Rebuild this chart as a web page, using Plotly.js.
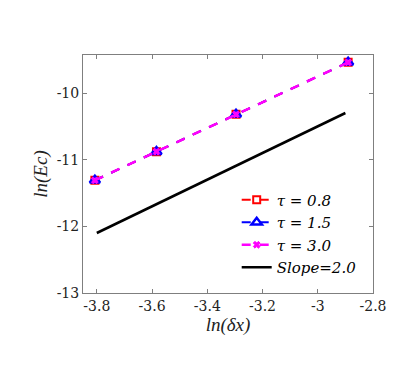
<!DOCTYPE html>
<html><head><meta charset="utf-8">
<script src="https://cdn.plot.ly/plotly-3.0.1.min.js"></script>
<style>html,body{margin:0;padding:0;background:#fff}</style>
</head><body>
<div id="chart" style="width:415px;height:365px"></div>
<script>
const lnDx = [-3.807, -3.584, -3.296, -2.890];
const eTau08 = [-11.31, -10.88, -10.32, -9.54];
const eTau15 = [-11.31, -10.88, -10.32, -9.54];
const eTau30 = [-11.31, -10.88, -10.32, -9.54];
const slopeX = [-3.8, -2.9];
const slopeY = [-12.1, -10.3];
const xTicks = [-3.8, -3.6, -3.4, -3.2, -3, -2.8];
const xTickText = ['-3.8', '-3.6', '-3.4', '-3.2', '-3', '-2.8'];
const yTicks = [-13, -12, -11, -10];
const yTickText = ['-13', '-12', '-11', '-10'];
const names = ['<i>τ = 0.8</i>', '<i>τ = 1.5</i>', '<i>τ = 3.0</i>', '<i>Slope=2.0</i>'];

const SERIF = 'Liberation Serif';
const NUMSERIF = 'DejaVu Serif';

const traces = [
  {x: lnDx, y: eTau08, name: names[0], mode: 'lines+markers',
   line: {color: '#ff0000', dash: 'dash', width: 2},
   marker: {symbol: 'square-open', color: '#ff0000', size: 7, line: {width: 2, color: '#ff0000'}}},
  {x: lnDx, y: eTau15, name: names[1], mode: 'lines+markers',
   line: {color: '#0000ff', dash: 'dash', width: 2},
   marker: {symbol: 'triangle-up-open', color: '#0000ff', size: 9, line: {width: 2.5, color: '#0000ff'}}},
  {x: lnDx, y: eTau30, name: names[2], mode: 'lines+markers',
   line: {color: '#ff00ff', dash: 'dash', width: 2.5},
   marker: {symbol: 'x', color: '#ff00ff', size: 6, line: {width: 1, color: '#ff00ff'}}},
  {x: slopeX, y: slopeY, name: names[3], mode: 'lines',
   line: {color: '#000000', width: 2.5}}
];

const axisCommon = {
  showgrid: false, zeroline: false, showline: true, linecolor: '#7f7f7f', linewidth: 1,
  mirror: 'ticks', ticks: 'inside', ticklen: 4, tickcolor: '#7f7f7f',
  tickfont: {family: NUMSERIF, size: 14, color: '#222'}
};

const layout = {
  width: 415, height: 365,
  margin: {l: 83, r: 42, t: 55, b: 72},
  paper_bgcolor: '#fff', plot_bgcolor: '#fff',
  showlegend: true,
  legend: {x: 0.53, y: 0.46, xanchor: 'left', yanchor: 'top',
           bgcolor: 'rgba(0,0,0,0)', borderwidth: 0, tracegroupgap: 0, itemwidth: 30,
           font: {family: NUMSERIF, size: 15, color: '#000'}},
  xaxis: Object.assign({}, axisCommon, {
    range: [-3.85, -2.8], tickvals: xTicks, ticktext: xTickText,
    title: {text: '<i>ln(δx)</i>', standoff: 2, font: {family: SERIF, size: 19, color: '#222'}}
  }),
  yaxis: Object.assign({}, axisCommon, {
    range: [-13, -9.43], tickvals: yTicks, ticktext: yTickText,
    title: {text: '<i>ln(Ec)</i>', standoff: 4, font: {family: SERIF, size: 19, color: '#222'}}
  })
};

Plotly.newPlot('chart', traces, layout, {displayModeBar: false, staticPlot: true});
</script>
</body></html>
